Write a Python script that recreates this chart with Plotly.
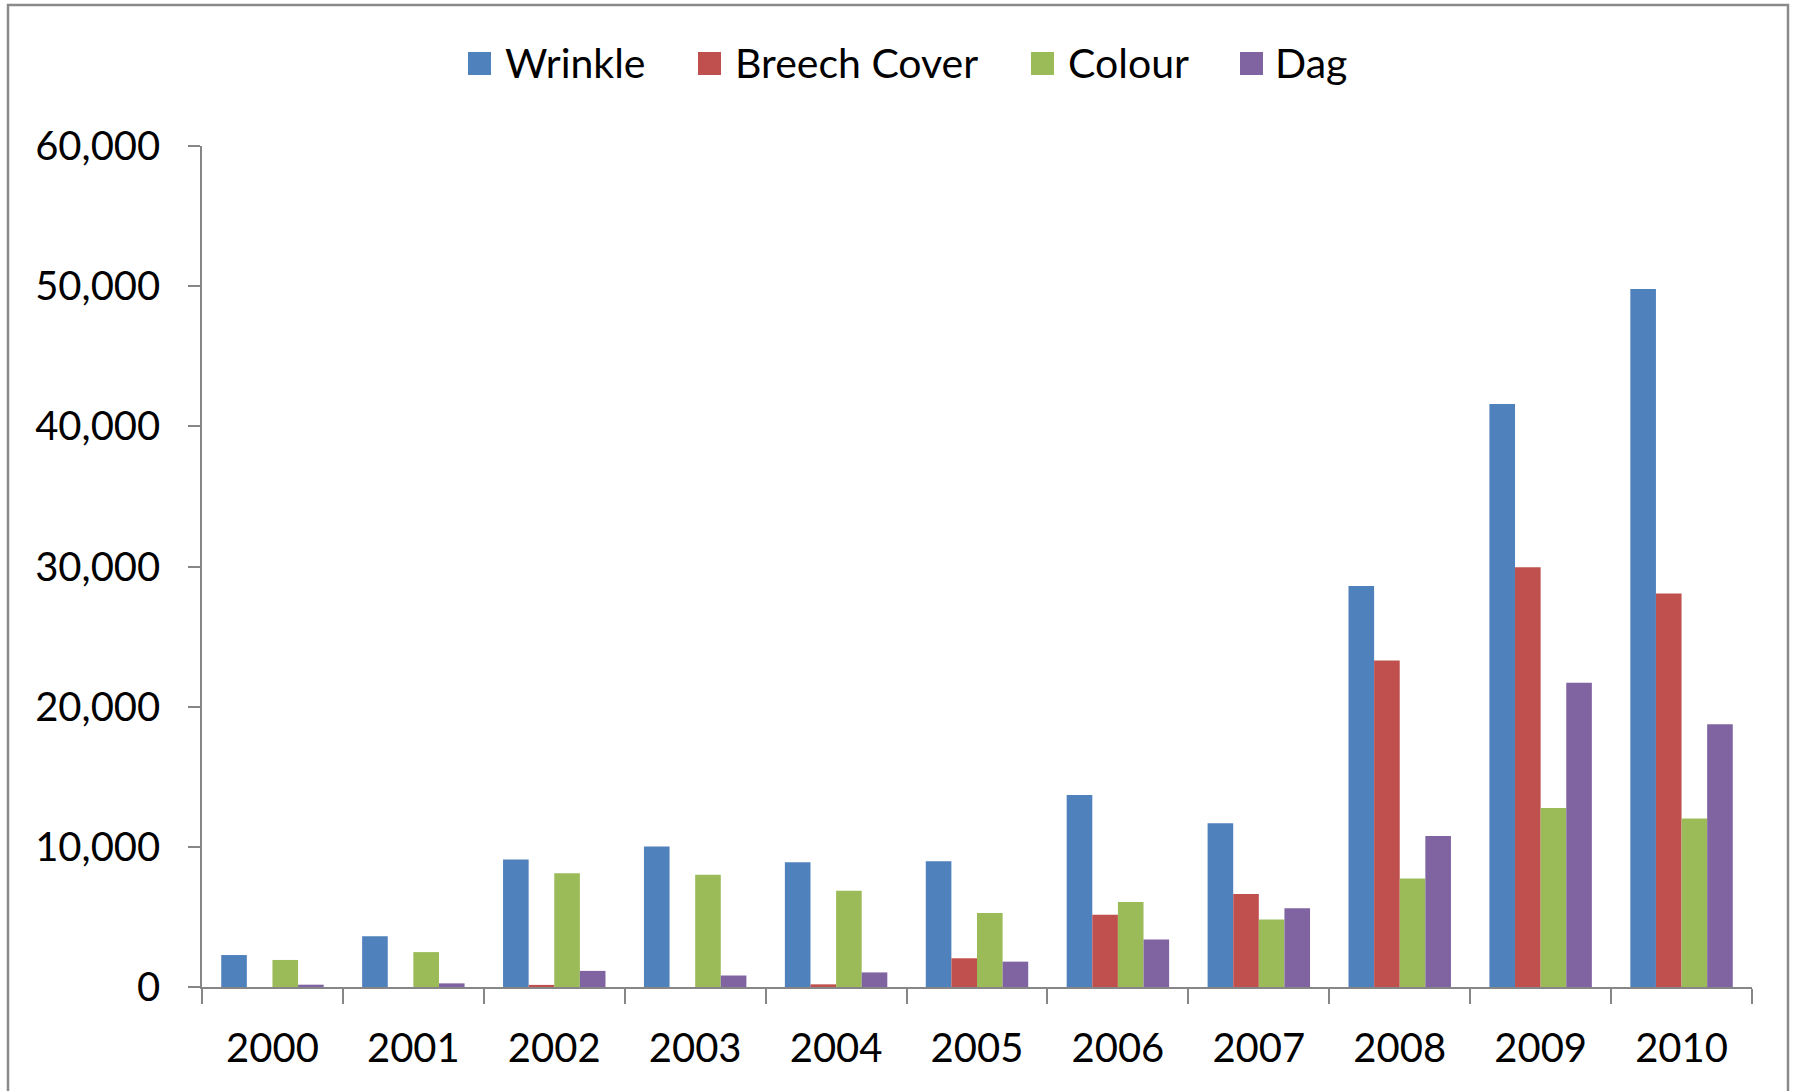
import plotly.graph_objects as go

# Annual counts per trait, 2000-2010
years = ["2000", "2001", "2002", "2003", "2004", "2005",
         "2006", "2007", "2008", "2009", "2010"]
series_names = ["Wrinkle", "Breech Cover", "Colour", "Dag"]
wrinkle = [2280, 3620, 9100, 10020, 8900, 8980, 13700, 11680, 28600, 41600, 49800]
breech_cover = [0, 0, 150, 0, 190, 2050, 5150, 6630, 23300, 29950, 28070]
colour = [1930, 2490, 8120, 8000, 6870, 5280, 6070, 4820, 7740, 12770, 12030]
dag = [165, 260, 1150, 820, 1040, 1810, 3390, 5620, 10780, 21700, 18740]
y_ticks = [0, 10000, 20000, 30000, 40000, 50000, 60000]

colors = ["#4F81BD", "#C0504D", "#9BBB59", "#8064A2"]
FONT = "Lato"
W, H = 1800, 1091
L, R, T, B = 202, 48, 146, 104
plot_w = W - L - R
plot_h = H - T - B

fig = go.Figure()
for name, vals, col in zip(series_names, [wrinkle, breech_cover, colour, dag], colors):
    fig.add_trace(go.Bar(x=years, y=vals, name=name, marker_color=col,
                         marker_line_width=0, showlegend=False))


def px_x(px):
    return (px - L) / plot_w


def px_y(py):
    return (H - B - py) / plot_h


shapes = []
annotations = []
# Legend row along the top
sq_left = [468, 698, 1031, 1240]
txt_left = [503, 733, 1066, 1273]
for name, col, sx, tx in zip(series_names, colors, sq_left, txt_left):
    shapes.append(dict(type="rect", xref="paper", yref="paper",
                       x0=px_x(sx), x1=px_x(sx + 23), y0=px_y(75), y1=px_y(52),
                       fillcolor=col, line_width=0))
    annotations.append(dict(text=name, xref="paper", yref="paper",
                            x=px_x(tx), y=px_y(63), xanchor="left", yanchor="middle",
                            showarrow=False, font=dict(family=FONT, size=41, color="black")))

# Chart frame
shapes.append(dict(type="rect", xref="paper", yref="paper",
                   x0=px_x(8), x1=px_x(1788), y0=px_y(1100), y1=px_y(5),
                   line=dict(color="#8a8a8a", width=2.5), fillcolor="rgba(0,0,0,0)"))

fig.update_layout(
    width=W, height=H,
    margin=dict(l=L, r=R, t=T, b=B),
    paper_bgcolor="white", plot_bgcolor="white",
    barmode="group", bargap=0.273, bargroupgap=0,
    font=dict(family=FONT, size=40, color="black"),
    shapes=shapes, annotations=annotations,
    showlegend=False,
)
fig.update_xaxes(
    type="category", tickson="boundaries", ticks="outside", ticklen=15,
    tickcolor="#868686", tickwidth=1.5, showline=True, linecolor="#868686",
    linewidth=1.5, showgrid=False, ticklabelstandoff=25,
    tickfont=dict(family=FONT, size=40, color="black"),
)
fig.update_yaxes(
    range=[0, 60000], tickvals=y_ticks, tickformat=",d",
    ticks="outside", ticklen=12, tickcolor="#868686", tickwidth=1.5,
    showline=True, linecolor="#868686", linewidth=1.5, showgrid=False,
    zeroline=False, ticklabelstandoff=20,
    tickfont=dict(family=FONT, size=40, color="black"),
)

fig.write_html("out.html")
